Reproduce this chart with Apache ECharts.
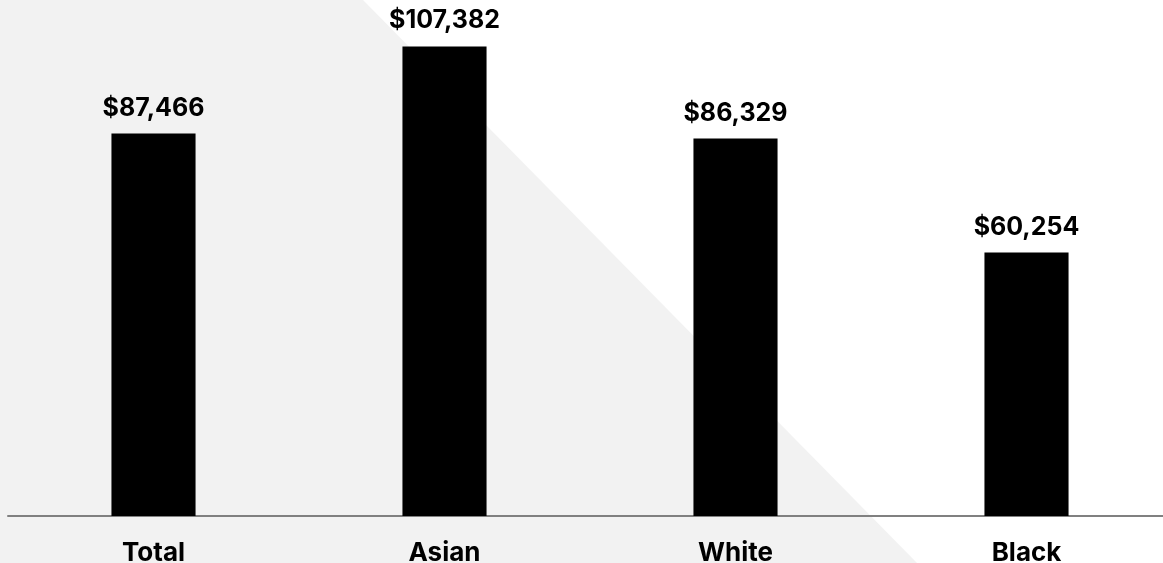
<!DOCTYPE html>
<html><head><meta charset="utf-8">
<script src="https://cdn.jsdelivr.net/npm/echarts@6/dist/echarts.min.js"></script>
<style>html,body{margin:0;padding:0;background:#fff}#c{width:1163px;height:563px}</style>
</head><body><div id="c"></div>
<script>
const categories = ['Total', 'Asian', 'White', 'Black'];
const incomes = [87466, 107382, 86329, 60254];

const chart = echarts.init(document.getElementById('c'));
chart.setOption({
  animation: false,
  backgroundColor: '#ffffff',
  graphic: [{
    type: 'polygon', z: -10, silent: true,
    shape: { points: [[0, 0], [363, 0], [917, 563], [0, 563]] },
    style: { fill: '#f2f2f2' }
  }],
  grid: { left: 8, top: 0, bottom: 47, right: -9, outerBoundsMode: 'none', containLabel: false },
  xAxis: {
    type: 'category', data: categories,
    axisLine: { lineStyle: { color: '#808080', width: 2 } },
    axisTick: { show: false },
    axisLabel: { color: '#000', fontFamily: 'Inter', fontWeight: 'bold', fontSize: 26, letterSpacing: 2.5, margin: 24 }
  },
  yAxis: { type: 'value', min: 0, max: 118000, show: false, splitLine: { show: false } },
  series: [{
    type: 'bar', data: incomes, barWidth: '28.9%',
    itemStyle: { color: '#000' },
    label: {
      show: true, position: 'top', distance: 13, color: '#000',
      fontFamily: 'Inter', fontWeight: 'bold', fontSize: 25, letterSpacing: 1.5,
      formatter: p => '$' + p.value.toLocaleString('en-US')
    }
  }]
});
</script></body></html>
